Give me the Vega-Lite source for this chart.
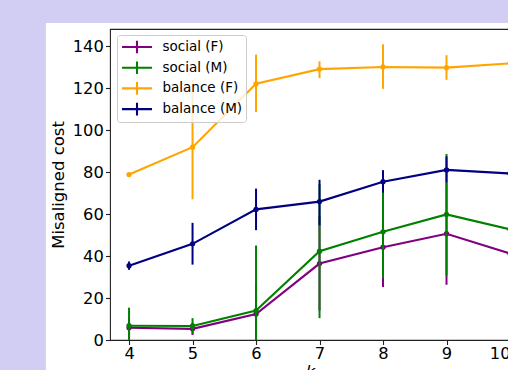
{
  "$schema": "https://vega.github.io/schema/vega-lite/v6.json",
  "autosize": {"type": "none"},
  "width": 400,
  "height": 311,
  "padding": {"left": 110, "top": 29, "right": -2, "bottom": 30},
  "background": "white",
  "datasets": {
    "d": [
      {"k": 4, "series": "social (F)", "cost": 5.8, "lo": 1.0, "hi": 10.6},
      {"k": 5, "series": "social (F)", "cost": 5.3, "lo": 2.4, "hi": 8.2},
      {"k": 6, "series": "social (F)", "cost": 12.4, "lo": -2, "hi": 26.8},
      {"k": 7, "series": "social (F)", "cost": 36.4, "lo": 14, "hi": 58.8},
      {"k": 8, "series": "social (F)", "cost": 44.2, "lo": 25.2, "hi": 63.2},
      {"k": 9, "series": "social (F)", "cost": 50.6, "lo": 26.3, "hi": 74.9},
      {"k": 10, "series": "social (F)", "cost": 41.2, "lo": 26, "hi": 56.4},
      {"k": 4, "series": "social (M)", "cost": 6.8, "lo": -1.8, "hi": 15.4},
      {"k": 5, "series": "social (M)", "cost": 6.7, "lo": 3.0, "hi": 10.4},
      {"k": 6, "series": "social (M)", "cost": 14.0, "lo": -17, "hi": 45},
      {"k": 7, "series": "social (M)", "cost": 42.3, "lo": 10.4, "hi": 74.2},
      {"k": 8, "series": "social (M)", "cost": 51.5, "lo": 29.5, "hi": 73.5},
      {"k": 9, "series": "social (M)", "cost": 59.8, "lo": 30.8, "hi": 88.6},
      {"k": 10, "series": "social (M)", "cost": 52.7, "lo": 35, "hi": 70.4},
      {"k": 4, "series": "balance (F)", "cost": 78.8, "lo": 78.3, "hi": 79.3},
      {"k": 5, "series": "balance (F)", "cost": 91.8, "lo": 67, "hi": 124},
      {"k": 6, "series": "balance (F)", "cost": 122.0, "lo": 108.6, "hi": 135.9},
      {"k": 7, "series": "balance (F)", "cost": 129.0, "lo": 124.7, "hi": 132.7},
      {"k": 8, "series": "balance (F)", "cost": 130.0, "lo": 119.6, "hi": 140.8},
      {"k": 9, "series": "balance (F)", "cost": 129.7, "lo": 123.9, "hi": 135.6},
      {"k": 10, "series": "balance (F)", "cost": 131.7, "lo": 126, "hi": 137.4},
      {"k": 4, "series": "balance (M)", "cost": 35.4, "lo": 33.4, "hi": 37.4},
      {"k": 5, "series": "balance (M)", "cost": 45.8, "lo": 35.9, "hi": 55.8},
      {"k": 6, "series": "balance (M)", "cost": 62.2, "lo": 52.3, "hi": 72.1},
      {"k": 7, "series": "balance (M)", "cost": 65.9, "lo": 54.6, "hi": 76.3},
      {"k": 8, "series": "balance (M)", "cost": 75.4, "lo": 70.2, "hi": 80.9},
      {"k": 9, "series": "balance (M)", "cost": 81.0, "lo": 75.0, "hi": 87.4},
      {"k": 10, "series": "balance (M)", "cost": 79.3, "lo": 74.5, "hi": 84.1}
    ]
  },
  "data": {"name": "d"},
  "layer": [
    {
      "data": {"values": [{}]},
      "mark": {"type": "rect", "color": "#d1cdf3", "clip": false},
      "encoding": {
        "x": {"datum": -10, "type": "quantitative", "scale": {"domain": [3.7, 10.0], "nice": false, "zero": false}, "title": "k"},
        "x2": {"datum": 2.69},
        "y": {"datum": -60, "type": "quantitative", "scale": {"domain": [0, 148.1], "nice": false, "zero": false}, "title": "Misaligned cost"},
        "y2": {"datum": 400}
      }
    },
    {
      "data": {"values": [{}]},
      "mark": {"type": "rect", "color": "#d1cdf3", "clip": false},
      "encoding": {
        "x": {"datum": -10, "type": "quantitative", "title": "k"},
        "x2": {"datum": 30},
        "y": {"datum": 150.96, "type": "quantitative", "title": "Misaligned cost"},
        "y2": {"datum": 400}
      }
    },
    {
      "transform": [{"filter": "datum.series === 'social (F)'"}],
      "layer": [
        {"mark": {"type": "rule", "strokeWidth": 2, "clip": true},
         "encoding": {"x": {"field": "k", "type": "quantitative", "title": "k"}, "y": {"field": "lo", "type": "quantitative", "title": "Misaligned cost"}, "y2": {"field": "hi"}, "color": {"field": "series", "type": "nominal"}}},
        {"mark": {"type": "line", "strokeWidth": 2.1, "clip": true, "point": {"filled": true, "size": 28}},
         "encoding": {"x": {"field": "k", "type": "quantitative", "title": "k"}, "y": {"field": "cost", "type": "quantitative", "title": "Misaligned cost"}, "color": {"field": "series", "type": "nominal"}}}
      ]
    },
    {
      "transform": [{"filter": "datum.series === 'social (M)'"}],
      "layer": [
        {"mark": {"type": "rule", "strokeWidth": 2, "clip": true},
         "encoding": {"x": {"field": "k", "type": "quantitative", "title": "k"}, "y": {"field": "lo", "type": "quantitative", "title": "Misaligned cost"}, "y2": {"field": "hi"}, "color": {"field": "series", "type": "nominal"}}},
        {"mark": {"type": "line", "strokeWidth": 2.1, "clip": true, "point": {"filled": true, "size": 28}},
         "encoding": {"x": {"field": "k", "type": "quantitative", "title": "k"}, "y": {"field": "cost", "type": "quantitative", "title": "Misaligned cost"}, "color": {"field": "series", "type": "nominal"}}}
      ]
    },
    {
      "transform": [{"filter": "datum.series === 'balance (F)'"}],
      "layer": [
        {"mark": {"type": "rule", "strokeWidth": 2, "clip": true},
         "encoding": {"x": {"field": "k", "type": "quantitative", "title": "k"}, "y": {"field": "lo", "type": "quantitative", "title": "Misaligned cost"}, "y2": {"field": "hi"}, "color": {"field": "series", "type": "nominal"}}},
        {"mark": {"type": "line", "strokeWidth": 2.1, "clip": true, "point": {"filled": true, "size": 28}},
         "encoding": {"x": {"field": "k", "type": "quantitative", "title": "k"}, "y": {"field": "cost", "type": "quantitative", "title": "Misaligned cost"}, "color": {"field": "series", "type": "nominal"}}}
      ]
    },
    {
      "transform": [{"filter": "datum.series === 'balance (M)'"}],
      "layer": [
        {"mark": {"type": "rule", "strokeWidth": 2, "clip": true},
         "encoding": {"x": {"field": "k", "type": "quantitative", "title": "k"}, "y": {"field": "lo", "type": "quantitative", "title": "Misaligned cost"}, "y2": {"field": "hi"}, "color": {"field": "series", "type": "nominal"}}},
        {"mark": {"type": "line", "strokeWidth": 2.1, "clip": true, "point": {"filled": true, "size": 28}},
         "encoding": {"x": {"field": "k", "type": "quantitative", "title": "k",
                            "axis": {"values": [4, 5, 6, 7, 8, 9, 10], "format": "d", "titleFontStyle": "italic", "titlePadding": 2}},
                      "y": {"field": "cost", "type": "quantitative", "title": "Misaligned cost",
                            "axis": {"values": [0, 20, 40, 60, 80, 100, 120, 140], "format": "d", "titlePadding": 6}},
                      "color": {"field": "series", "type": "nominal",
                                "scale": {"domain": ["social (F)", "social (M)", "balance (F)", "balance (M)"], "range": ["#800080", "#008000", "#ffa500", "#000080"]},
                                "legend": {"orient": "none", "legendX": 7, "legendY": 6, "title": null,
                                           "symbolType": "M-1,0H1M0,-0.42V0.42", "symbolSize": 900, "symbolStrokeWidth": 2.1,
                                           "clipHeight": 17, "rowPadding": 3.7, "padding": 3.5, "labelOffset": 9, "symbolOffset": 0,
                                           "labelFont": "DejaVu Sans", "labelFontSize": 13.5, "labelColor": "black",
                                           "strokeColor": "#cccccc", "fillColor": "rgba(255,255,255,0.8)", "cornerRadius": 3, "zindex": 1}}}}
      ]
    }
  ],
  "config": {
    "view": {"stroke": "#222222", "strokeWidth": 1.1, "fill": null},
    "axis": {
      "grid": false, "domain": false, "zindex": 1,
      "labelFont": "DejaVu Sans", "labelFontSize": 16.3, "labelColor": "black", "labelPadding": 2.2,
      "tickColor": "#222222", "tickSize": 4.5, "tickWidth": 1.1,
      "titleFont": "DejaVu Sans", "titleFontSize": 16.5, "titleFontWeight": "normal", "titleColor": "black"
    },
    "axisX": {"labelPadding": 0.5},
    "legend": {"zindex": 1}
  }
}
